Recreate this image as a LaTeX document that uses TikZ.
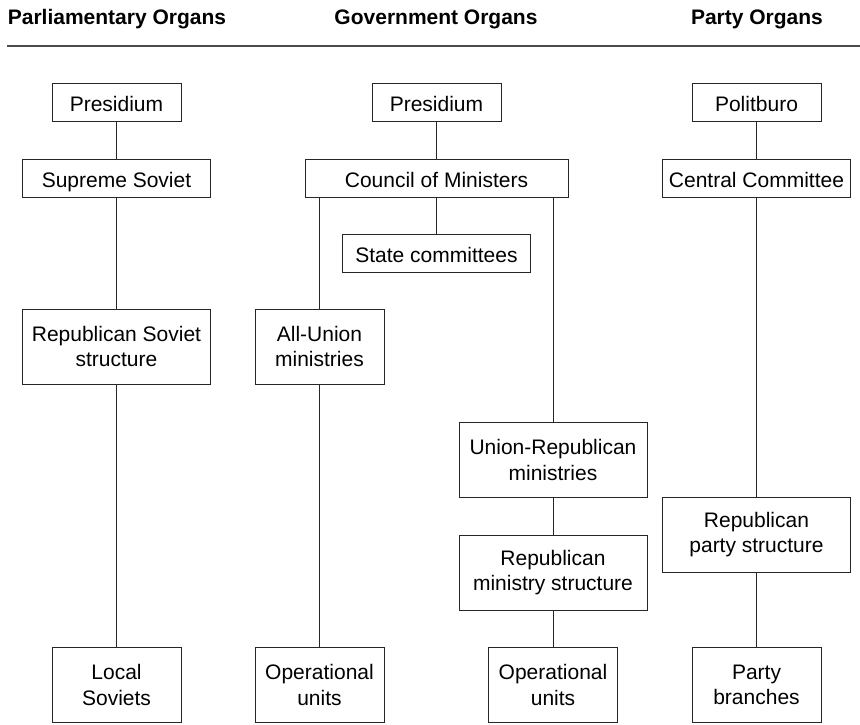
\documentclass[tikz,border=0pt]{standalone}
\usepackage{fontspec}
\setmainfont{Liberation Sans}
\usepackage{tikz}

\begin{document}
\begin{tikzpicture}[x=1pt, y=-1pt, auto,
    every node/.style={font=\fontsize{21}{25.5}\selectfont},
    head/.style={font=\fontsize{21}{25.5}\selectfont\bfseries},
    frame/.style={draw=black!85, line width=0.9pt, inner sep=0pt, align=center},
    box/.style={frame, minimum height=38pt, text height=18pt, text depth=0pt},
    tall/.style={frame, minimum height=75pt},
    link/.style={draw=black!85, line width=0.9pt}]
      \useasboundingbox (0,0) rectangle (860,724);
      % headings
      \node[head] (H1) at (117,19) {Parliamentary Organs};
      \node[head] (H2) at (436,19) {Government Organs};
      \node[head] (H3) at (757,19) {Party Organs};
      \draw [black!70, line width=1.2pt] (7,46) -- (860,46);
      % parliament
      \node[box, minimum width=129pt] (PP) at (116.5,102) {Presidium};
      \node[box, minimum width=188pt] (SS) at (116.5,178) {Supreme Soviet};
      \node[tall, minimum width=188pt] (RS) at (116.5,346.5) {Republican Soviet\\structure};
      \node[tall, minimum width=129pt] (LS) at (116.5,685) {Local\\Soviets};
      % government
      \node[box, minimum width=129pt] (GP) at (436.5,102) {Presidium};
      \node[box, minimum width=263pt] (CM) at (436.5,178) {Council of Ministers};
      \node[box, minimum width=188pt] (SC) at (436.5,253) {State committees};
      \node[tall, minimum width=129pt] (AU) at (319.5,346.5) {All-Union\\ministries};
      \node[tall, minimum width=129pt] (OU1) at (319.5,685) {Operational\\units};
      \node[tall, minimum width=188pt] (UR) at (553,460) {Union-Republican\\ministries};
      \node[tall, minimum width=188pt] (RM) at (553,572.5) {Republican\\ministry structure};
      \node[tall, minimum width=129pt] (OU2) at (553,685) {Operational\\units};
      % party
      \node[box, minimum width=129pt] (PB) at (756.5,102) {Politburo};
      \node[box, minimum width=188pt] (CC) at (756.5,178) {Central Committee};
      \node[tall, minimum width=188pt] (RP) at (756.5,534.5) {Republican\\party structure};
      \node[tall, minimum width=129pt] (PBr) at (756.5,685) {Party\\branches};
      \draw [link] (PP) to (SS);
      \draw [link] (SS) to (RS);
      \draw [link] (RS) to (LS);
      \draw [link] (GP) to (CM);
      \draw [link] (CM) to (SC);
      \draw [link] (AU.north |- CM.south) to (AU.north);
      \draw [link] (AU) to (OU1);
      \draw [link] (UR.north |- CM.south) to (UR.north);
      \draw [link] (UR) to (RM);
      \draw [link] (RM) to (OU2);
      \draw [link] (PB) to (CC);
      \draw [link] (CC) to (RP);
      \draw [link] (RP) to (PBr);
\end{tikzpicture}
\end{document}
